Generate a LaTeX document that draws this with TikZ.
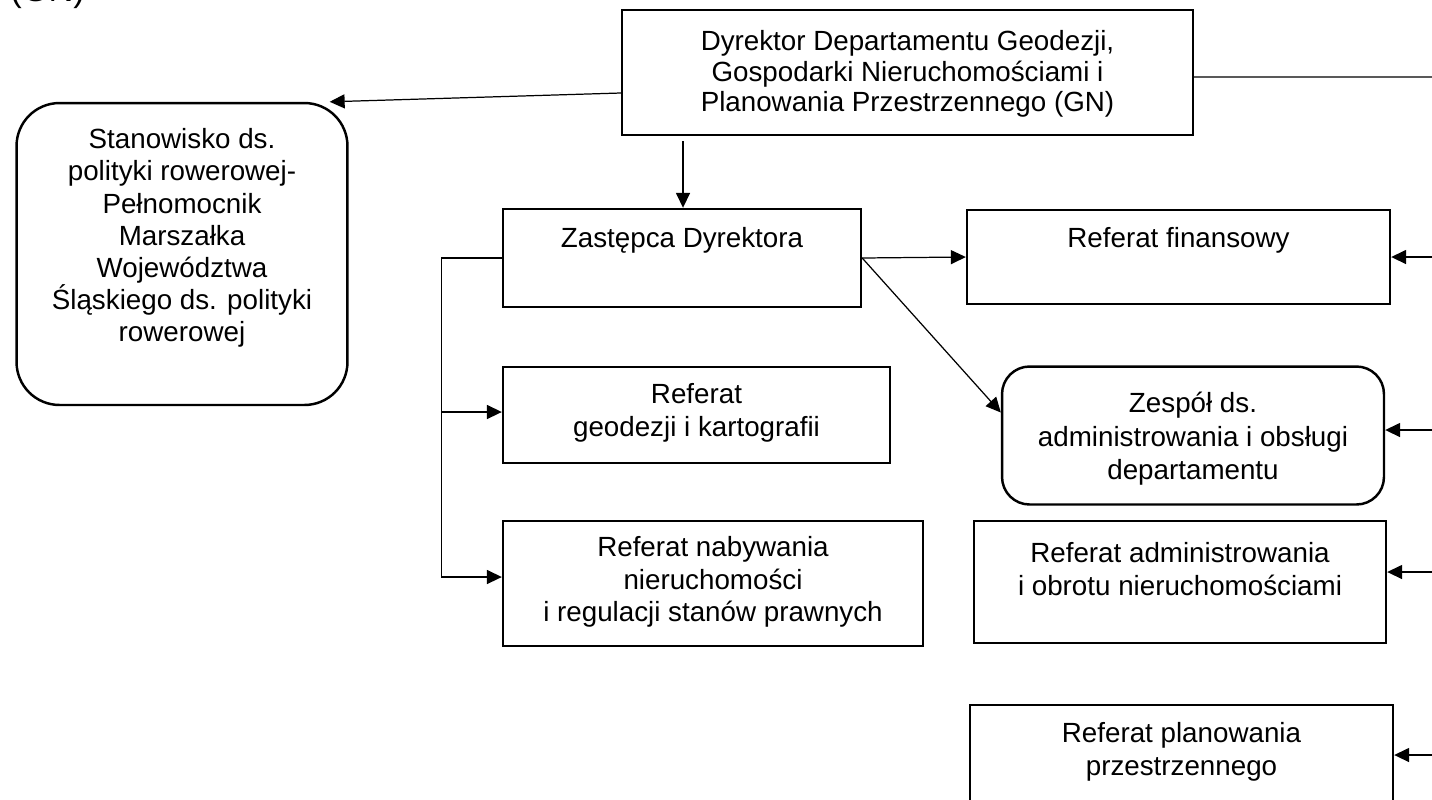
\documentclass[tikz,border=0pt]{standalone}
\usepackage{fontspec}
\setmainfont{Liberation Sans}
\usetikzlibrary{arrows.meta,calc}
\tikzset{
% Box styles for the chart: square and rounded, plus text and links
unit box/.style={draw,line width=1.4pt,inner sep=0},
round box/.style={unit box,rounded corners=#1},
unit text/.style={align=center,inner sep=0,font=\fontsize{15.8}{18.6}\selectfont},
link/.style={line width=0.7pt,->,>={Triangle[length=8.5pt,width=8pt]}}
}
\begin{document}
\begin{tikzpicture}[x=0.02cm,y=-0.02cm]
\path[use as bounding box,clip] (0,0) rectangle (1432,799);
\node[unit text,anchor=base west,font=\fontsize{19.6}{22}\selectfont] (gn) at (10,1) {(GN)};

\node[unit box,minimum width=11.42cm,minimum height=2.5cm] (dir) at (907.5,72.5) {};
\node[unit text,font=\fontsize{15.8}{17.5}\selectfont] (dir text) at (907.5,74) {Dyrektor Departamentu Geodezji,\\Gospodarki Nieruchomościami i\\Planowania Przestrzennego (GN)};

\node[round box=0.86cm,minimum width=6.62cm,minimum height=6.04cm] (stan) at (182,254) {};
\node[unit text,font=\fontsize{15.8}{18.3}\selectfont] (stan text) at (182,238) {Stanowisko ds.\\polityki rowerowej-\\Pełnomocnik\\Marszałka\\Województwa\\Śląskiego ds. polityki\\rowerowej};

\node[unit box,minimum width=7.16cm,minimum height=1.96cm] (zast) at (682,258) {};
\node[unit text] (zast text) at (682,240) {Zastępca Dyrektora};

\node[unit box,minimum width=8.46cm,minimum height=1.88cm] (fin) at (1178.5,257) {};
\node[unit text] (fin text) at (1178.5,240) {Referat finansowy};

\node[unit box,minimum width=7.74cm,minimum height=1.92cm] (geo) at (696.5,415) {};
\node[unit text] (geo text) at (696.5,413) {Referat\\geodezji i kartografii};

\node[unit box,minimum width=8.4cm,minimum height=2.5cm] (nab) at (713,583.5) {};
\node[unit text] (nab text) at (713,582) {Referat nabywania\\nieruchomości\\i regulacji stanów prawnych};

\node[round box=0.55cm,minimum width=7.64cm,minimum height=2.76cm] (zesp) at (1193,435.5) {};
\node[unit text,font=\fontsize{15.8}{19}\selectfont] (zesp text) at (1193,439) {Zespół ds.\\administrowania i obsługi\\departamentu};

\node[unit box,minimum width=8.24cm,minimum height=2.44cm] (adm) at (1180,582) {};
\node[unit text] (adm text) at (1180,569) {Referat administrowania\\i obrotu nieruchomościami};

\node[unit box,minimum width=8.46cm,minimum height=2.6cm] (plan) at (1181.5,770) {};
\node[unit text] (plan text) at (1181.5,752) {Referat planowania\\przestrzennego};

% free ends on the right edge
\coordinate (edge dir) at (1432,77);
\coordinate (edge fin) at (1432,257);
\coordinate (edge zesp) at (1432,430);
\coordinate (edge adm) at (1432,572);
\coordinate (edge plan) at (1432,755);

\draw[link] ([yshift=-0.41cm]dir.west) -- ([xshift=-0.38cm]stan.north east);
\draw[line width=0.7pt] ([yshift=-0.09cm]dir.east) -- (edge dir);
\draw[link] ($(zast.north |- dir.south)+(1,5)$) -- ($(zast.north)+(1,0)$);
\path[link] (zast.east) edge (fin.west);
\path[link] (zast.east) edge ([yshift=0.46cm]zesp.west);
\draw[link] (zast.west) -- ++(-60,0) |- ([yshift=0.06cm]geo.west);
\draw[link] (zast.west) -- ++(-60,0) |- ([yshift=0.13cm]nab.west);
\path[link] (edge fin) edge (fin.east);
\path[link] (edge zesp) edge (edge zesp -| zesp.east);
\path[link] (edge adm) edge (edge adm -| adm.east);
\path[link] (edge plan) edge (edge plan -| plan.east);
\end{tikzpicture}
\end{document}
